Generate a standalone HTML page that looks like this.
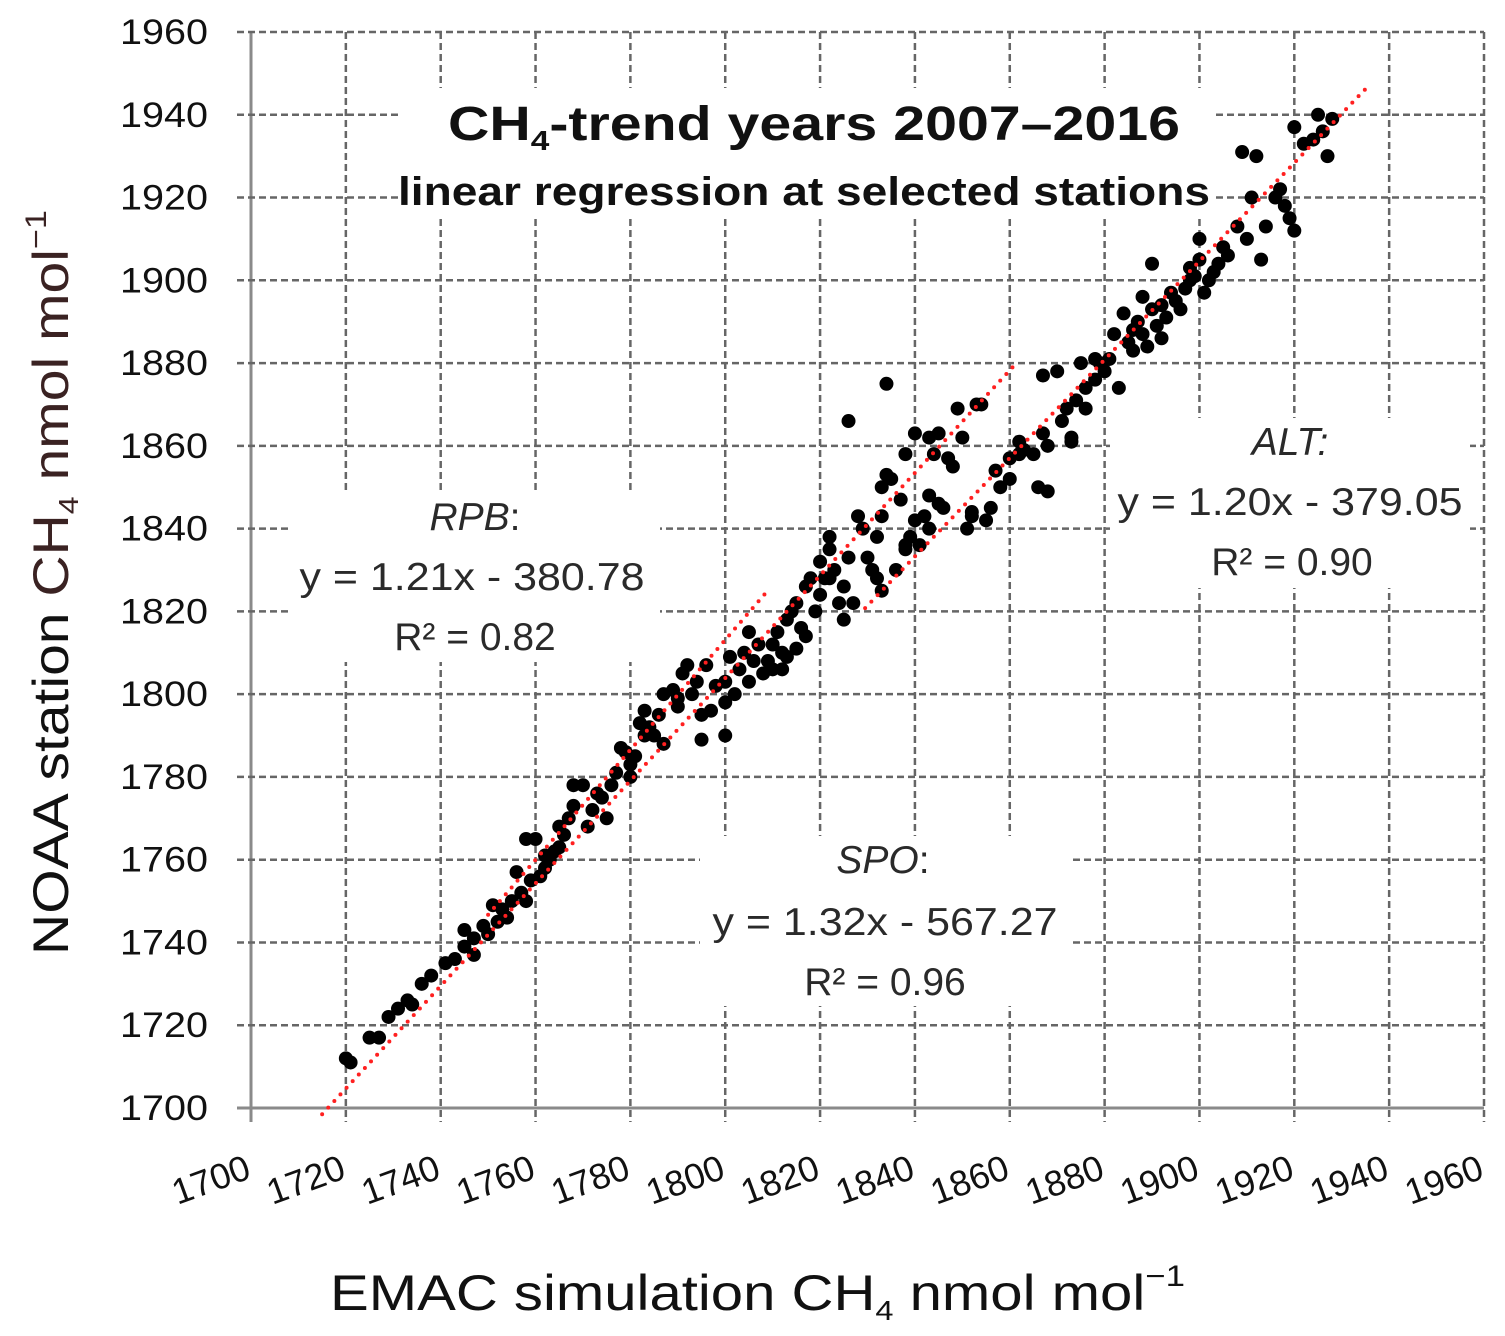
<!DOCTYPE html>
<html><head><meta charset="utf-8"><style>
body{margin:0;background:#fff}
svg{display:block}
text{font-family:"Liberation Sans",sans-serif}
</style></head><body>
<svg id="chart" width="1505" height="1336" viewBox="0 0 1505 1336" xmlns="http://www.w3.org/2000/svg">
<g id="grid"></g>
<g id="labels">
<rect x="398" y="88" width="818" height="128" fill="#fff"/>
<rect x="290" y="492" width="370" height="170" fill="#fff"/>
<rect x="1110" y="418" width="360" height="170" fill="#fff"/>
<rect x="700" y="836" width="370" height="170" fill="#fff"/>
</g>
<g id="lines"></g>
<g id="points"></g>
<g id="ticks"></g>
<text x="448" y="140" font-size="48" font-weight="bold" fill="#111" textLength="732" lengthAdjust="spacingAndGlyphs">CH<tspan font-size="28" dy="10">4</tspan><tspan dy="-10">-trend years 2007–2016</tspan></text>
<text x="398" y="205" font-size="40" font-weight="bold" fill="#111" textLength="812" lengthAdjust="spacingAndGlyphs">linear regression at selected stations</text>
<g font-size="39" fill="#2a2a2a" text-anchor="middle">
<text x="475" y="530" font-style="italic">RPB<tspan font-style="normal">:</tspan></text>
<text x="472" y="590" textLength="345" lengthAdjust="spacingAndGlyphs">y = 1.21x - 380.78</text>
<text x="475" y="650">R² = 0.82</text>
</g>
<g font-size="39" fill="#2a2a2a" text-anchor="middle">
<text x="1290" y="455" font-style="italic">ALT:</text>
<text x="1290" y="515" textLength="345" lengthAdjust="spacingAndGlyphs">y = 1.20x - 379.05</text>
<text x="1292" y="575">R² = 0.90</text>
</g>
<g font-size="39" fill="#2a2a2a" text-anchor="middle">
<text x="883" y="873" font-style="italic">SPO<tspan font-style="normal">:</tspan></text>
<text x="885" y="935" textLength="345" lengthAdjust="spacingAndGlyphs">y = 1.32x - 567.27</text>
<text x="885" y="995">R² = 0.96</text>
</g>
<text transform="translate(68,955) rotate(-90)" font-size="50" fill="#111" textLength="745" lengthAdjust="spacingAndGlyphs">NOAA station <tspan fill="#3a2222">CH</tspan><tspan fill="#3a2222" font-size="28" dy="10">4</tspan><tspan fill="#3a2222" dy="-10"> nmol mol</tspan><tspan fill="#3a2222" font-size="30" dy="-22">−1</tspan></text>
<text x="330" y="1310" font-size="50" fill="#111" textLength="855" lengthAdjust="spacingAndGlyphs">EMAC simulation  CH<tspan font-size="28" dy="10">4</tspan><tspan dy="-10"> nmol  mol</tspan><tspan font-size="30" dy="-24">−1</tspan></text>
</svg>
<script>
const xTicks=[1700,1720,1740,1760,1780,1800,1820,1840,1860,1880,1900,1920,1940,1960];
const yTicks=[1700,1720,1740,1760,1780,1800,1820,1840,1860,1880,1900,1920,1940,1960];
const lineNames=['rpb-line','spo-line','alt-line'];
const lineX1=[1750,1715,1829.5];
const lineY1=[1746.7,1698.5,1820.8];
const lineX2=[1809.4,1861,1936];
const lineY2=[1825.6,1879.5,1947.4];
const ptsX=[1720,1721,1725,1727,1729,1731,1733,1734,1736,1738,1741,1743,1745,1747,1747,1749,1750,1752,1753,1754,1755,1757,1758,1758,1760,1759,1761,1762,1763,1764,1765,1766,1765,1767,1768,1770,1771,1772,1774,1775,1776,1778,1779,1780,1780,1781,1782,1783,1783,1785,1786,1787,1787,1789,1790,1791,1792,1793,1794,1795,1795,1797,1798,1800,1800,1800,1801,1802,1803,1804,1805,1806,1807,1808,1809,1810,1810,1811,1812,1812,1813,1814,1815,1815,1816,1817,1817,1818,1819,1820,1820,1821,1822,1822,1822,1823,1824,1825,1825,1826,1826,1827,1828,1829,1830,1831,1832,1833,1833,1833,1834,1834,1835,1836,1837,1838,1838,1839,1840,1840,1841,1842,1843,1843,1844,1845,1846,1847,1848,1849,1850,1851,1852,1853,1854,1855,1856,1857,1858,1860,1862,1865,1866,1867,1867,1868,1870,1871,1872,1873,1874,1875,1876,1878,1879,1880,1881,1882,1883,1884,1885,1886,1887,1888,1888,1889,1890,1890,1891,1892,1893,1894,1895,1896,1897,1898,1899,1900,1900,1901,1902,1903,1904,1906,1908,1909,1910,1911,1912,1913,1914,1917,1918,1919,1920,1920,1922,1924,1925,1926,1927,1928,1878,1745,1751,1756,1762,1768,1773,1777,1784,1790,1796,1805,1813,1838,1845,1852,1860,1863,1868,1873,1876,1862,1832,1843,1886,1892,1898,1905,1916];
const ptsY=[1712,1711,1717,1717,1722,1724,1726,1725,1730,1732,1735,1736,1739,1741,1737,1744,1742,1745,1748,1746,1750,1752,1750,1765,1765,1755,1756,1758,1760,1762,1763,1766,1768,1770,1778,1778,1768,1772,1775,1770,1778,1787,1786,1780,1783,1785,1793,1796,1790,1790,1795,1800,1788,1801,1797,1805,1807,1800,1803,1789,1795,1796,1802,1798,1790,1803,1809,1800,1806,1810,1803,1808,1812,1805,1808,1806,1812,1815,1810,1806,1818,1820,1811,1822,1816,1814,1826,1828,1820,1832,1824,1828,1835,1838,1828,1830,1822,1818,1826,1833,1866,1822,1843,1840,1833,1830,1828,1825,1843,1850,1853,1875,1852,1830,1847,1835,1858,1838,1863,1842,1836,1843,1840,1862,1858,1863,1845,1857,1855,1869,1862,1840,1844,1870,1870,1842,1845,1854,1850,1857,1858,1858,1850,1863,1877,1849,1878,1866,1869,1862,1871,1880,1874,1876,1880,1878,1881,1887,1874,1892,1885,1883,1890,1887,1896,1884,1893,1904,1889,1886,1891,1897,1895,1893,1898,1903,1901,1910,1905,1897,1900,1902,1904,1906,1913,1931,1910,1920,1930,1905,1913,1922,1918,1915,1912,1937,1933,1934,1940,1936,1930,1939,1881,1743,1749,1757,1761,1773,1776,1781,1792,1799,1807,1815,1809,1836,1846,1843,1852,1859,1860,1861,1869,1861,1838,1848,1888,1894,1900,1908,1920];
const X0=251,X1=1484,Y0=1108,Y1=32;
function sx(v){return X0+(v-1700)*(X1-X0)/260;}
function sy(v){return Y0-(v-1700)*(Y0-Y1)/260;}
const NS='http://www.w3.org/2000/svg';
function mk(t,a,p){const e=document.createElementNS(NS,t);for(const k in a)e.setAttribute(k,a[k]);p.appendChild(e);return e;}
const grid=document.getElementById('grid');
xTicks.forEach((v,i)=>{
 const solid=i===0;
 const l=mk('line',{x1:sx(v),x2:sx(v),y1:Y1,y2:Y0+14,stroke:solid?'#8a8a8a':'#666','stroke-width':solid?3:2.5,'stroke-dasharray':solid?'':'7,4'},grid);
 
 
});
yTicks.forEach((v,i)=>{
 const solid=i===0;
 const l=mk('line',{x1:X0-14,x2:X1,y1:sy(v),y2:sy(v),stroke:solid?'#8a8a8a':'#666','stroke-width':solid?3:2.5,'stroke-dasharray':solid?'':'7,4'},grid);
 
 
});
const ticks=document.getElementById('ticks');
yTicks.forEach(v=>{
 const t=mk('text',{x:208,y:sy(v)+12,'text-anchor':'end','font-size':35,fill:'#111',textLength:88,lengthAdjust:'spacingAndGlyphs'},ticks);
 t.textContent=v;
 
 
});
xTicks.forEach(v=>{
 const cx=sx(v)-40, cy=1180;
 const t=mk('text',{x:cx,y:cy+12,'text-anchor':'middle','font-size':36,fill:'#111',transform:`rotate(-20 ${cx} ${cy})`},ticks);
 t.textContent=v;
 
 
});
const pts=document.getElementById('points');
ptsX.forEach((v,i)=>{
 const c=mk('circle',{cx:sx(v),cy:sy(ptsY[i]),r:7,fill:'#000'},pts);
 
 
});
const lines=document.getElementById('lines');
lineNames.forEach((n,i)=>{
 const l=mk('line',{x1:sx(lineX1[i]),y1:sy(lineY1[i]),x2:sx(lineX2[i]),y2:sy(lineY2[i]),stroke:'#ff2020','stroke-width':4,'stroke-linecap':'round','stroke-dasharray':'0,9'},lines);
 
 
});
document.getElementById('chart').appendChild(lines);
</script>
</body></html>
